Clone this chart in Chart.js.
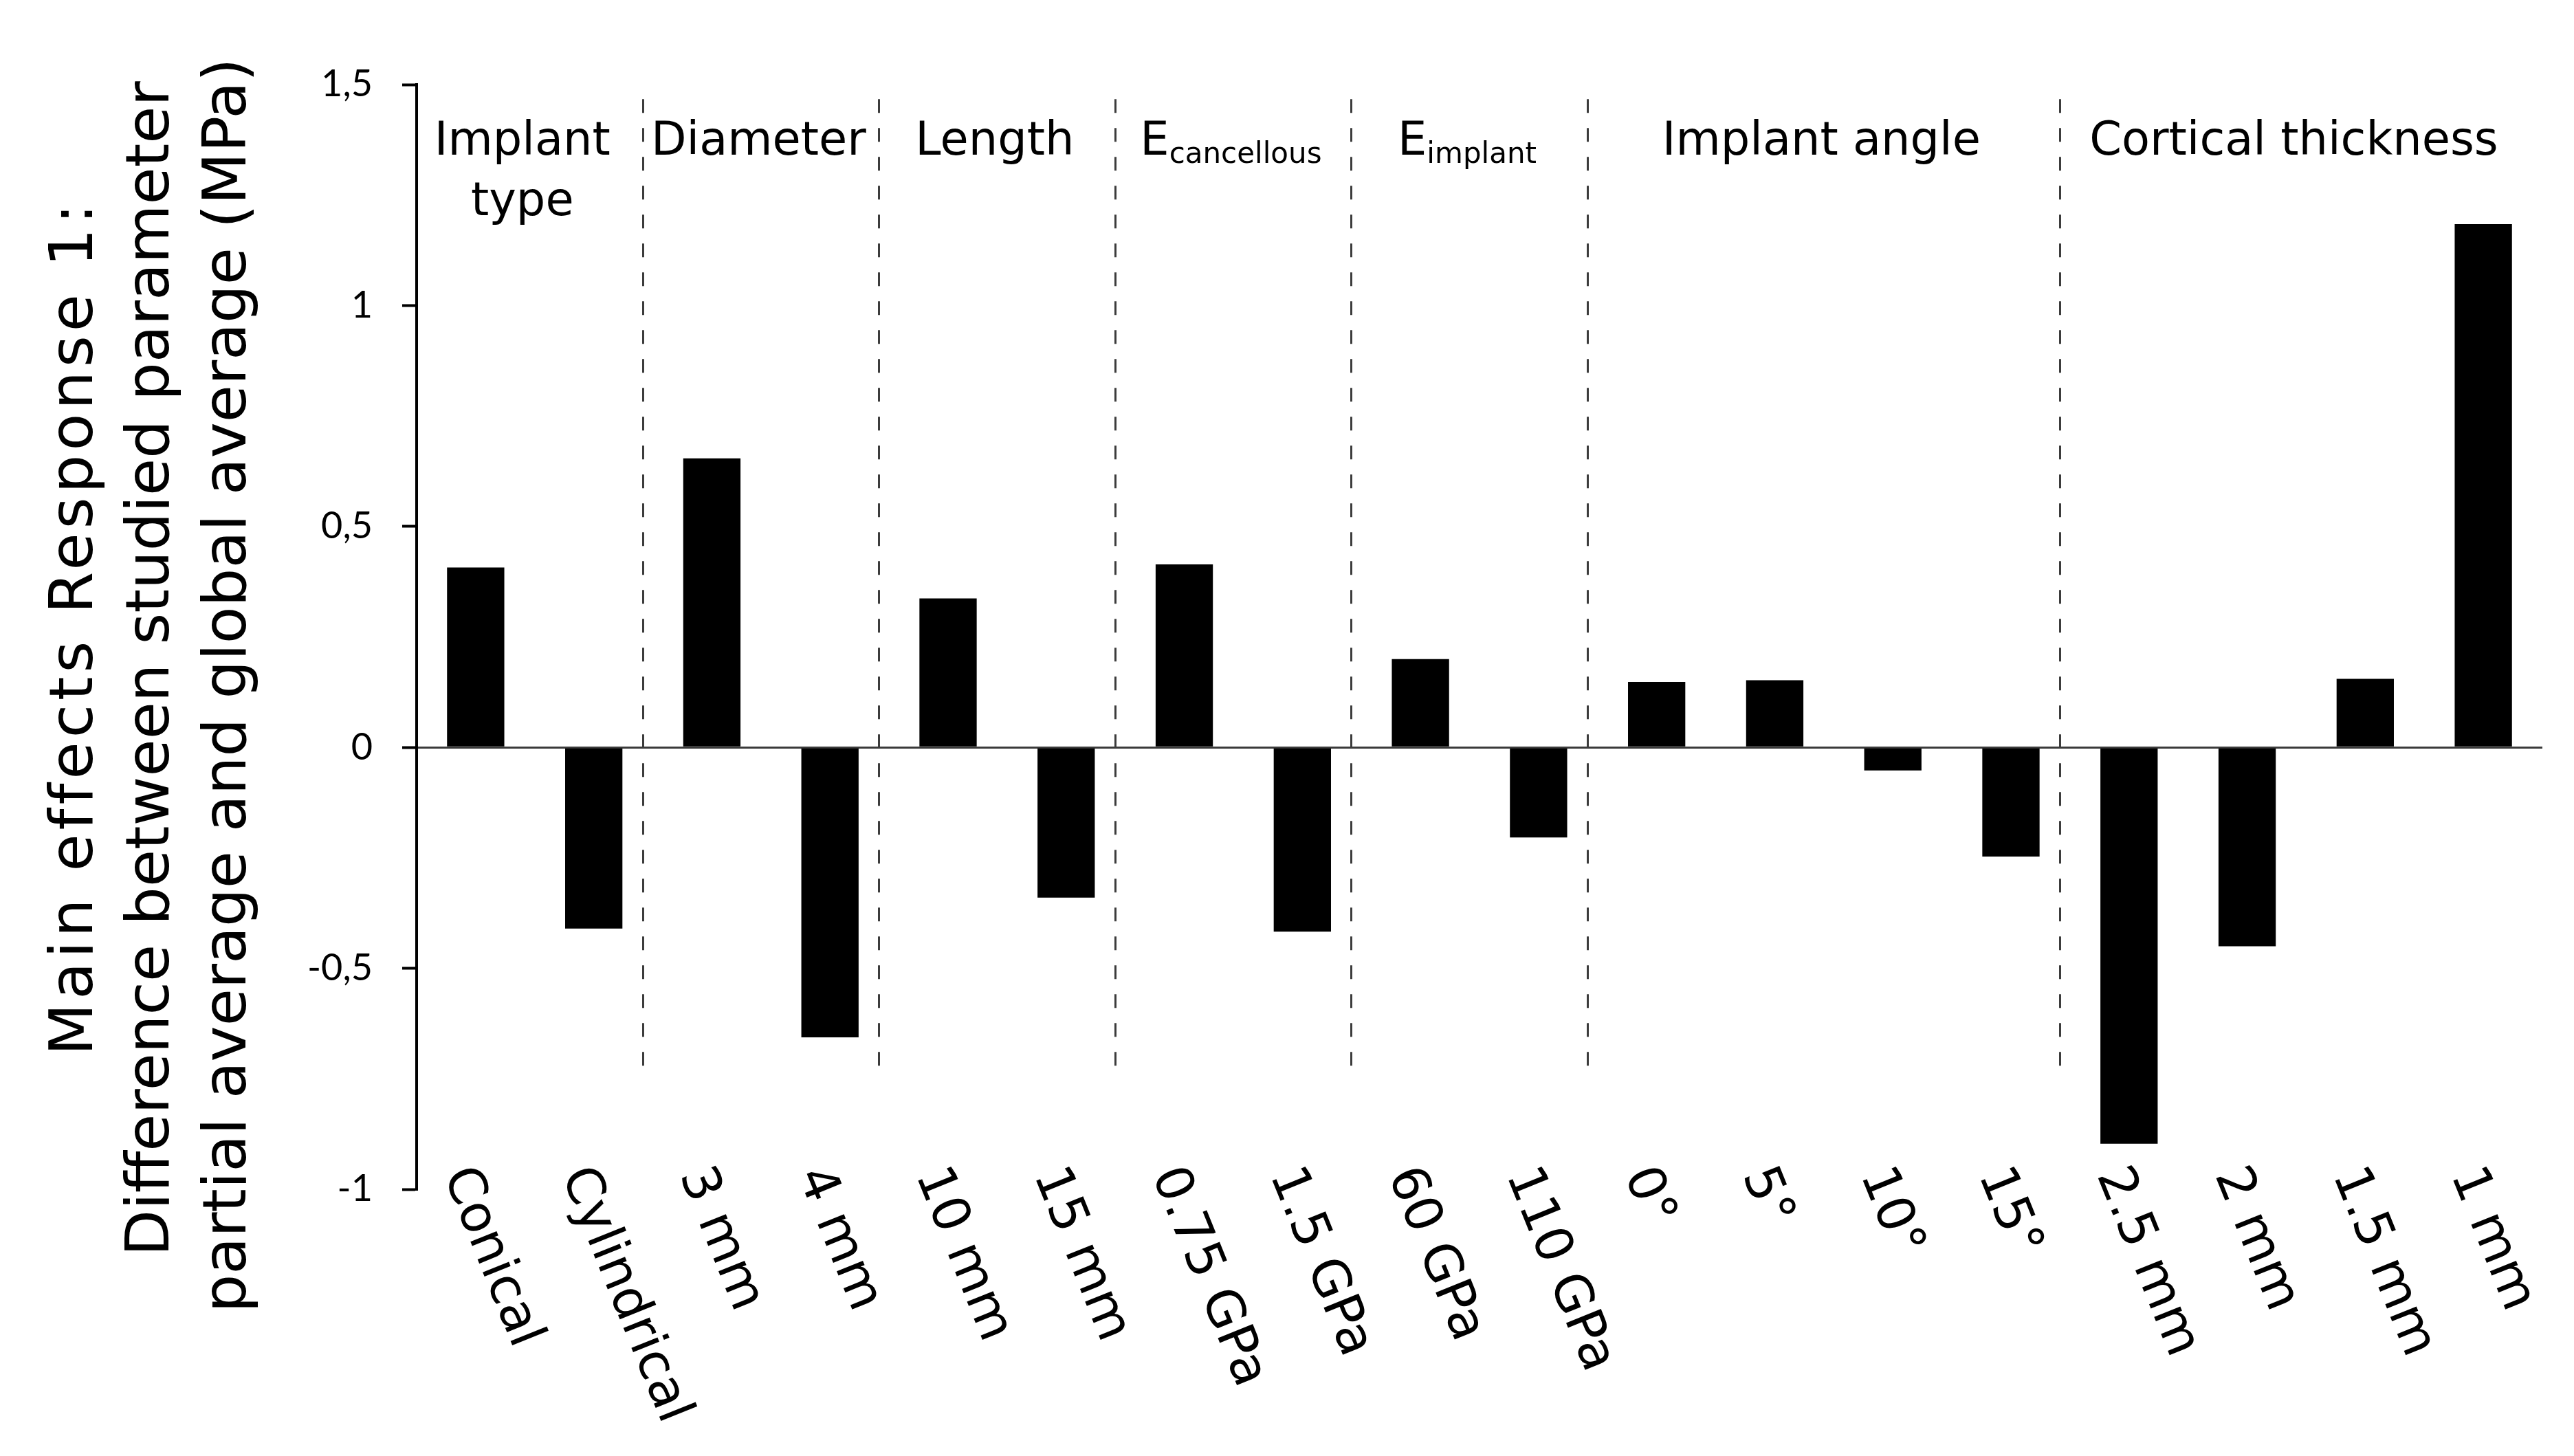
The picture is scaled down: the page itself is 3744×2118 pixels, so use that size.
<!DOCTYPE html>
<html>
<head>
<meta charset="utf-8">
<script src="https://cdn.jsdelivr.net/npm/chart.js@4/dist/chart.umd.min.js"></script>
<style>
  html, body { margin: 0; padding: 0; background: #fff; }
  #wrap { width: 3744px; height: 2118px; }
</style>
</head>
<body>
<div id="wrap"><canvas id="effects-chart" width="3744" height="2118"></canvas></div>
<script>
// values
var categories = ['Conical', 'Cylindrical', '3 mm', '4 mm', '10 mm', '15 mm', '0.75 GPa', '1.5 GPa',
                  '60 GPa', '110 GPa', '0°', '5°', '10°', '15°', '2.5 mm', '2 mm', '1.5 mm', '1 mm'];
var effects = [0.407, -0.410, 0.654, -0.656, 0.337, -0.340, 0.414, -0.417,
               0.200, -0.204, 0.148, 0.152, -0.052, -0.247, -0.897, -0.450, 0.155, 1.184];
var groupNames = [['Implant', 'type'], ['Diameter'], ['Length'], ['E'], ['E'], ['Implant angle'], ['Cortical thickness']];
var groupSubs = ['', '', '', 'cancellous', 'implant', '', ''];
var groupFirst = [0, 2, 4, 6, 8, 10, 14];
var groupLast = [1, 3, 5, 7, 9, 13, 17];
var yTicks = [1.5, 1, 0.5, 0, -0.5, -1];
var titleLines = ['Main effects Response 1:', 'Difference between studied parameter', 'partial average and global average (MPa)'];

(function(){
    'use strict';

    var ctxEl = document.getElementById('effects-chart');
    if (!ctxEl) return;

    function catCenter(xs, a, b) {
        return (xs.getPixelForValue(a) + xs.getPixelForValue(b)) / 2;
    }

    // dashed separators between parameter groups
    var separators = {
        id: 'separators',
        beforeDatasetsDraw: function(chart){
            var c = chart.ctx, xs = chart.scales.x, ys = chart.scales.y;
            var top = ys.getPixelForValue(1.467), bottom = ys.getPixelForValue(-0.724);
            c.save();
            c.strokeStyle = '#3c3c3c';
            c.lineWidth = 3;
            c.setLineDash([20, 22]);
            for (var i = 1; i < groupFirst.length; i++) {
                var x = Math.round(catCenter(xs, groupLast[i - 1], groupFirst[i]) - 15) + 0.5;
                c.beginPath();
                c.moveTo(x, top);
                c.lineTo(x, bottom);
                c.stroke();
            }
            c.restore();
        }
    };

    // group headers, slanted category labels and the y title
    var labels = {
        id: 'labels',
        afterDraw: function(chart){
            var c = chart.ctx, xs = chart.scales.x, area = chart.chartArea;
            c.save();
            c.fillStyle = '#000';

            // group headers
            c.textBaseline = 'alphabetic';
            for (var g = 0; g < groupNames.length; g++) {
                var cx = catCenter(xs, groupFirst[g], groupLast[g]) - 18;
                var y0 = area.top + 102;
                if (groupSubs[g]) {
                    c.font = '67px "DejaVu Sans"';
                    var wMain = c.measureText(groupNames[g][0]).width;
                    c.font = '42px "DejaVu Sans"';
                    var wSub = c.measureText(groupSubs[g]).width;
                    var sx = cx - (wMain + wSub) / 2;
                    c.textAlign = 'left';
                    c.font = '67px "DejaVu Sans"';
                    c.fillText(groupNames[g][0], sx, y0);
                    c.font = '42px "DejaVu Sans"';
                    c.fillText(groupSubs[g], sx + wMain, y0 + 12);
                } else {
                    c.textAlign = 'center';
                    c.font = '67px "DejaVu Sans"';
                    for (var k = 0; k < groupNames[g].length; k++) {
                        c.fillText(groupNames[g][k], cx, y0 + k * 88);
                    }
                }
            }

            // category labels, turned clockwise
            c.font = '75px "DejaVu Sans"';
            c.textAlign = 'left';
            c.textBaseline = 'alphabetic';
            var ang = 68 * Math.PI / 180;
            for (var i = 0; i < categories.length; i++) {
                c.save();
                c.translate(xs.getPixelForValue(i) - 47, area.bottom - 21);
                c.rotate(ang);
                c.fillText(categories[i], 0, 0);
                c.restore();
            }

            // y axis title, three lines
            c.font = '88px "DejaVu Sans"';
            c.textAlign = 'center';
            var lineX = [134, 245, 357];
            var lineMid = [913, 973, 997];
            for (var j = 0; j < titleLines.length; j++) {
                c.save();
                c.letterSpacing = j === 0 ? '6px' : '0px';
                c.translate(lineX[j], lineMid[j]);
                c.rotate(-Math.PI / 2);
                c.fillText(titleLines[j], 0, 0);
                c.restore();
            }
            c.restore();
        }
    };

    var chart = new Chart(ctxEl.getContext('2d'), {
        type: 'bar',
        data: {
            labels: categories,
            datasets: [{
                data: effects,
                backgroundColor: '#000',
                borderWidth: 0,
                barPercentage: 0.485,
                categoryPercentage: 1
            }]
        },
        options: {
            responsive: false,
            animation: false,
            devicePixelRatio: 1,
            layout: { padding: { top: 123, right: 46, left: 0, bottom: 0 } },
            plugins: {
                legend: { display: false },
                tooltip: { enabled: false }
            },
            scales: {
                x: {
                    grid: { display: false },
                    border: { display: false },
                    ticks: { display: false },
                    afterFit: function(s){ s.height = 388; }
                },
                y: {
                    min: -1,
                    max: 1.5,
                    afterBuildTicks: function(s){
                        s.ticks = yTicks.map(function(v){ return { value: v }; });
                    },
                    afterFit: function(s){ s.width = 606; },
                    border: { display: true, color: '#000', width: 4 },
                    grid: {
                        drawOnChartArea: true,
                        color: function(ctx){
                            return (ctx.tick && ctx.tick.value === 0) ? '#3a3a3a' : 'rgba(0,0,0,0)';
                        },
                        lineWidth: 3,
                        tickColor: '#000',
                        tickWidth: 4,
                        tickLength: 21
                    },
                    ticks: {
                        color: '#000',
                        padding: 43,
                        font: { family: 'Lato', size: 54 },
                        callback: function(v){ return String(v).replace('.', ','); }
                    }
                }
            }
        },
        plugins: [separators, labels]
    });
})();
</script>
</body>
</html>
